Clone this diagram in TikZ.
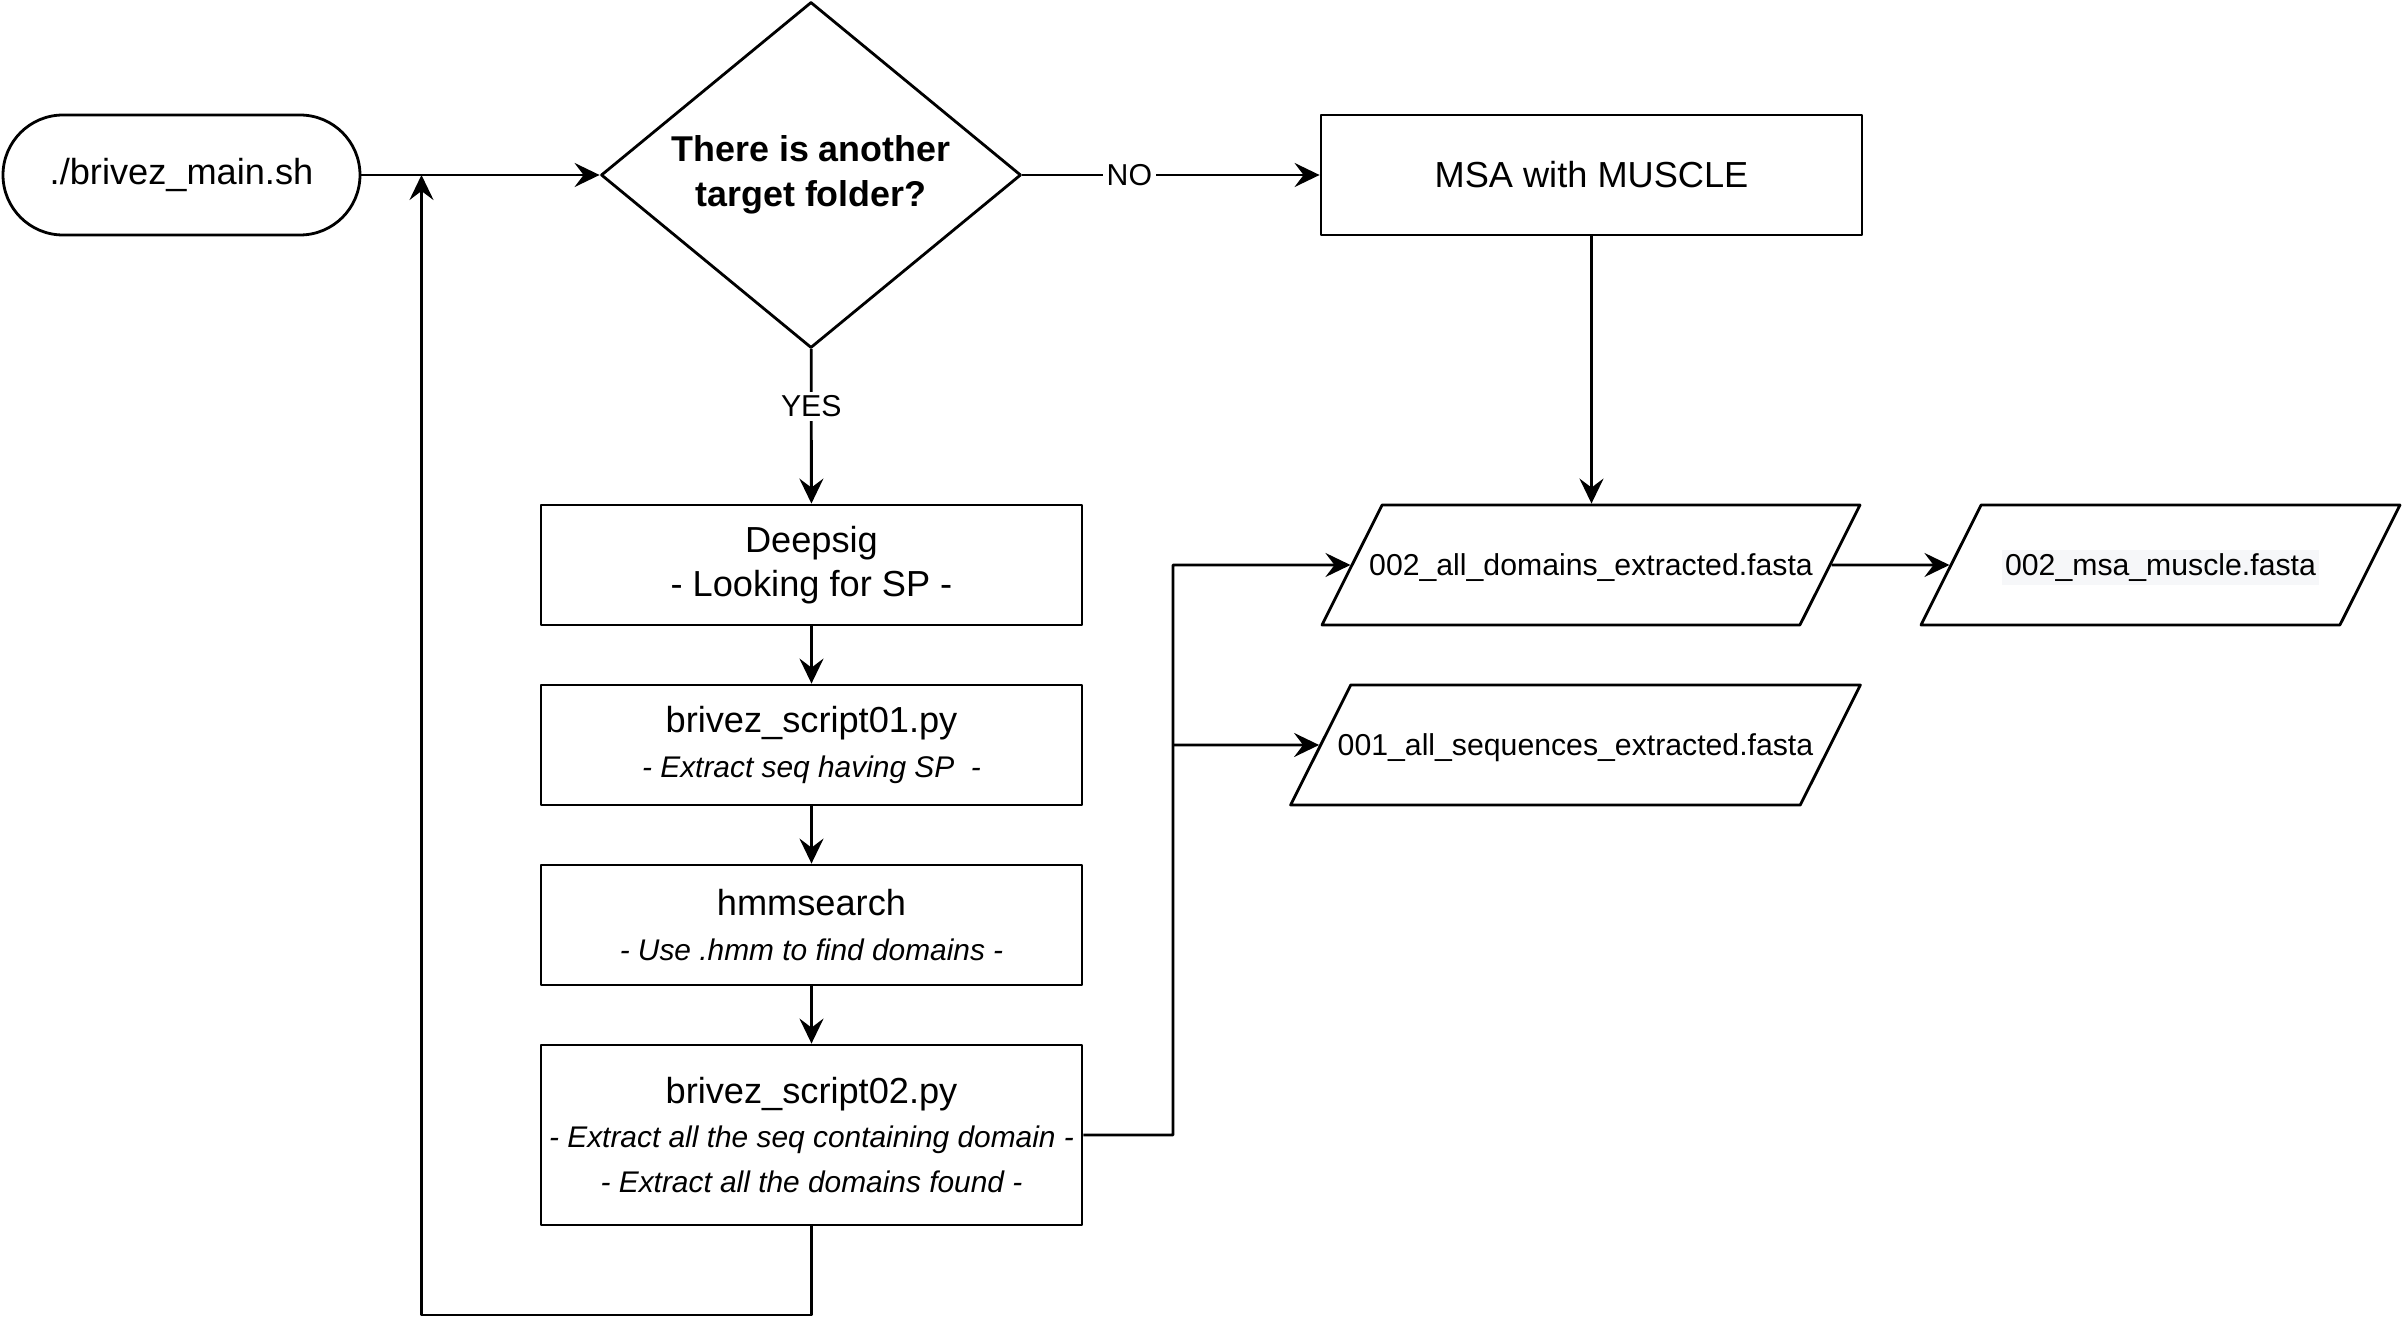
\documentclass[tikz,border=0pt]{standalone}
\usepackage{fontspec}
\setmainfont{Liberation Sans}
\usetikzlibrary{arrows.meta,positioning,calc,shapes.geometric}
\definecolor{hlgray}{RGB}{246,247,249}
\newcommand\subline[1]{{\itshape\fontsize{8.5}{12.6}\selectfont #1}}

\begin{document}
\begin{tikzpicture}[line join=round, line width=0.8pt,
  arr/.style={-{Stealth[length=2.5mm,width=2.4mm,inset=0.9mm]}},
  proc/.style={draw, minimum width=5.41cm, minimum height=1.2cm, inner sep=0pt, align=center, font=\fontsize{10.3}{12.6}\selectfont},
  term/.style={proc, minimum width=3.57cm, rounded corners=0.6cm},
  quest/.style={draw, diamond, shape aspect=1.214, minimum width=4.2cm, minimum height=3.46cm, inner sep=0pt, align=center, font=\bfseries\fontsize{10.2}{12.8}\selectfont},
  io/.style={draw, trapezium, trapezium left angle=63.4, trapezium right angle=116.6, trapezium stretches body=true, text height=0.31cm, text depth=0.1cm, inner xsep=-0.13cm, inner ysep=0.395cm, font=\fontsize{8.6}{10}\selectfont},
  lbl/.style={fill=white, inner sep=1pt, font=\fontsize{8.6}{10}\selectfont}]
\useasboundingbox (0,0) rectangle (24.03,13.38);
\node[term]  (start)   at (1.815,11.63) {./brivez\_main.sh};
\node[quest] (another) at (8.11,11.63)  {There is another\\target folder?};
\node[proc]  (msa)     at (15.915,11.63) {MSA with MUSCLE};
\node[proc]  (deepsig) at (8.115,7.73)  {Deepsig\\- Looking for SP -};
\node[proc]  (script1) at (8.115,5.93)  {brivez\_script01.py\\\subline{- Extract seq having SP~ -}};
\node[proc]  (hmm)     at (8.115,4.13)  {hmmsearch\\\subline{- Use .hmm to find domains -}};
\node[proc, minimum height=1.8cm] (script2) at (8.115,2.03)
  {brivez\_script02.py\\\subline{- Extract all the seq containing domain -}\\\subline{- Extract all the domains found -}};
\node[io, minimum width=5.38cm] (domfa) at (15.91,7.73)  {002\_all\_domains\_extracted.fasta};
\node[io, minimum width=5.69cm] (seqfa) at (15.755,5.93) {001\_all\_sequences\_extracted.fasta};
\node[io, minimum width=4.79cm] (msafa) at (21.605,7.73) {\fboxsep=1pt\colorbox{hlgray}{002\_msa\_muscle.fasta}};
\coordinate (bus)  at (11.73,2.03);
\coordinate (back) at (4.215,0.23);
% main flow
\draw[arr] (start) -- (another);
\draw[arr] (another) -- node[lbl, pos=0.36] {NO} (msa);
\draw[arr] (another) -- node[lbl, pos=0.37] {YES} (deepsig);
\draw[arr] (deepsig) -- (script1);
\draw[arr] (script1) -- (hmm);
\draw[arr] (hmm) -- (script2);
% outputs
\draw[arr] (msa.south) -- (msa.south |- domfa.north);
\draw[arr] (domfa) -- (msafa);
\draw[arr] (script2.east) -| (bus |- domfa) -- (domfa);
\draw[arr] (bus |- seqfa) -- (seqfa);
% loop back
\draw[arr] (script2) |- (back) -- (back |- start);
\end{tikzpicture}
\end{document}
